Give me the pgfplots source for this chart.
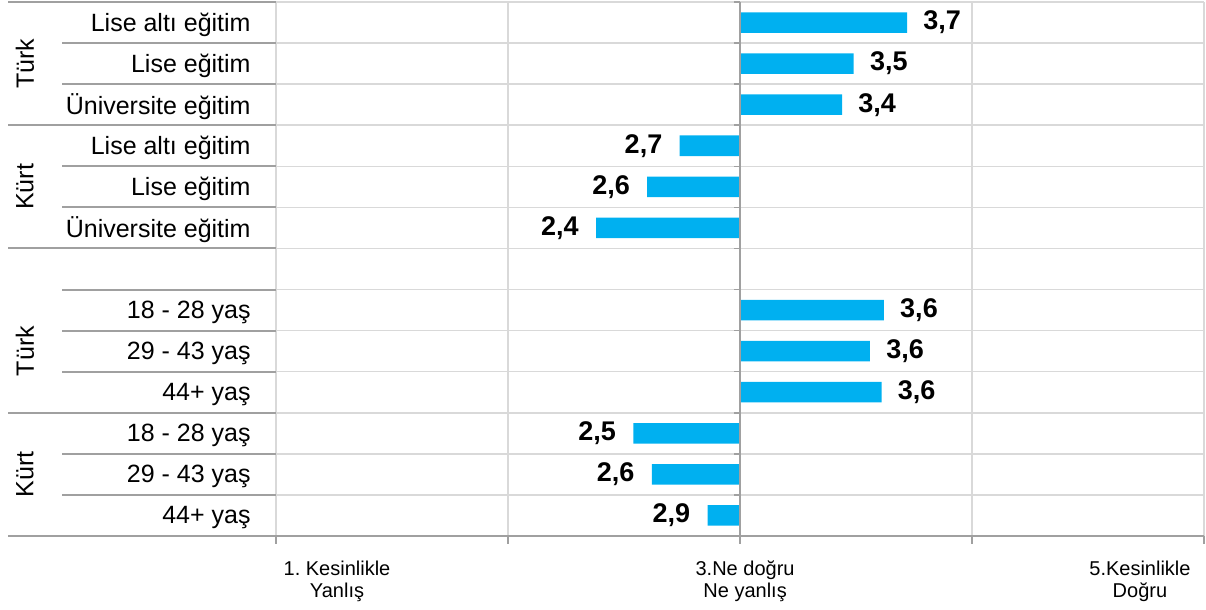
\documentclass[border=0pt]{standalone}
\usepackage{fontspec}
\setmainfont{Liberation Sans}
\usepackage{pgfplots}
\usepackage{pgfplotstable}
\pgfplotsset{compat=1.18}
\definecolor{barblue}{HTML}{00B0F0}
\definecolor{gridgray}{HTML}{D9D9D9}
\definecolor{axisgray}{HTML}{A0A0A0}
\definecolor{catgray}{HTML}{A0A0A0}

% y = row centre (top row 12.5), v = mean on the 1-5 scale
\pgfplotstableread{
y v
12.5 3.72
11.5 3.49
10.5 3.44
5.5 3.62
4.5 3.56
3.5 3.61
}\tabpos
\pgfplotstableread{
y v
9.5 2.74
8.5 2.60
7.5 2.38
2.5 2.54
1.5 2.62
0.5 2.86
}\tabneg

\begin{document}
\begin{tikzpicture}
\begin{axis}[
  at={(0,0)}, anchor=south west,
  scale only axis, width=464pt, height=267pt,
  xmin=-2, xmax=2, ymin=0, ymax=13,
  xbar, bar width=0.5,
  xtick={-2,-1,0,1,2}, xticklabels={},
  ytick={0.5,1.5,...,12.5},
  yticklabels={44+ yaş, 29 - 43 yaş, 18 - 28 yaş, 44+ yaş, 29 - 43 yaş, 18 - 28 yaş, {}, Üniversite eğitim, Lise eğitim, Lise altı eğitim, Üniversite eğitim, Lise eğitim, Lise altı eğitim},
  minor ytick={0,1,...,13},
  xmajorgrids, yminorgrids, ymajorgrids=false,
  grid style={gridgray, line width=0.75pt},
  minor grid style={gridgray, line width=0.75pt},
  major tick length=0pt, minor tick length=0pt,
  axis line style={draw=none},
  yticklabel style={font=\fontsize{12.5}{14}\selectfont, anchor=east, inner sep=0pt, xshift=-12.5pt, yshift=-1pt},
  clip=false,
  /pgf/number format/assume math mode=true,
  point meta=explicit,
  nodes near coords={\pgfmathprintnumber[fixed,fixed zerofill,precision=1,use comma]{\pgfplotspointmeta}},
  every node near coord/.append style={font=\fontsize{13.5}{14}\selectfont\bfseries, inner sep=0pt, text=black},
]
\addplot[fill=barblue, draw=none, bar shift=0pt,
  every node near coord/.append style={anchor=west, xshift=8pt}]
  table[y=y, x expr=\thisrow{v}-3, meta=v] {\tabpos};
\addplot[fill=barblue, draw=none, bar shift=0pt,
  every node near coord/.append style={anchor=east, xshift=-8.5pt}]
  table[y=y, x expr=\thisrow{v}-3, meta=v] {\tabneg};

% centre axis (value 3) with ticks
\draw[axisgray, line width=1pt] (axis cs:0,0) -- (axis cs:0,13);
\pgfplotsinvokeforeach{0,...,13}{
  \draw[axisgray, line width=0.8pt] (axis cs:0,#1) -- ([xshift=-3pt]axis cs:0,#1);
}
% bottom axis with ticks
\draw[axisgray, line width=1pt] (axis cs:-2,0) -- (axis cs:2,0);
\pgfplotsinvokeforeach{-2,...,2}{
  \draw[axisgray, line width=1pt] (axis cs:#1,0) -- ([yshift=-4pt]axis cs:#1,0);
}
% category separators in the label area
\pgfplotsinvokeforeach{12,11,9,8,6,5,4,2,1}{
  \draw[catgray, line width=1pt] (axis cs:-2,#1) -- ([xshift=-107pt]axis cs:-2,#1);
}
\pgfplotsinvokeforeach{13,10,7,3,0}{
  \draw[catgray, line width=1pt] (axis cs:-2,#1) -- ([xshift=-134pt]axis cs:-2,#1);
}
% group labels
\node[rotate=90, font=\fontsize{12.5}{14}\selectfont] at ([xshift=-125.5pt]axis cs:-2,11.5) {Türk};
\node[rotate=90, font=\fontsize{12.5}{14}\selectfont] at ([xshift=-125.5pt]axis cs:-2,8.5) {Kürt};
\node[rotate=90, font=\fontsize{12.5}{14}\selectfont] at ([xshift=-125.5pt]axis cs:-2,4.5) {Türk};
\node[rotate=90, font=\fontsize{12.5}{14}\selectfont] at ([xshift=-125.5pt]axis cs:-2,1.5) {Kürt};
% scale labels
\node[align=center, font=\fontsize{10}{11}\selectfont] at ([yshift=-22.5pt]axis cs:-1.737,0) {1.\ Kesinlikle\\Yanlış};
\node[align=center, font=\fontsize{10}{11}\selectfont] at ([yshift=-22.5pt]axis cs:0.022,0) {3.Ne doğru\\Ne yanlış};
\node[align=center, font=\fontsize{10}{11}\selectfont] at ([yshift=-22.5pt]axis cs:1.724,0) {5.Kesinlikle\\Doğru};
\end{axis}
\pgfresetboundingbox
\useasboundingbox (-138pt,-37pt) rectangle (465pt,268pt);
\end{tikzpicture}
\end{document}
